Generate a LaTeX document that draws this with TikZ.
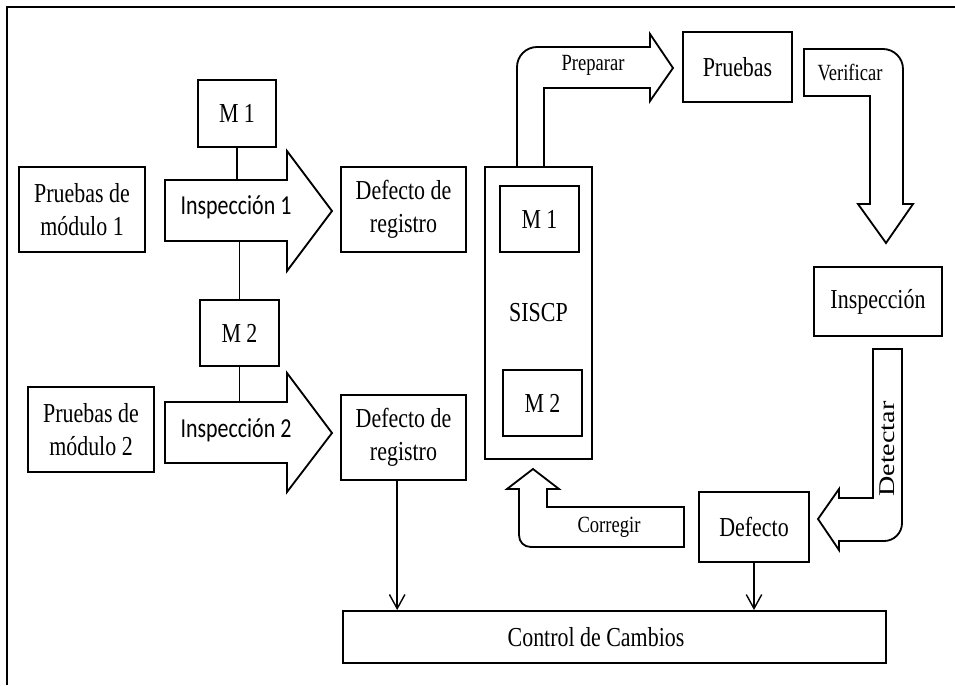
\documentclass[tikz,border=0pt]{standalone}
\usepackage{fontspec}
\newfontfamily\boxf[FakeStretch=0.8]{Liberation Serif}
\newfontfamily\sansf[FakeStretch=0.8]{Carlito}
\newfontfamily\plainserif{Liberation Serif}
\usetikzlibrary{arrows.meta}
\begin{document}
\begin{tikzpicture}[x=0.025cm,y=-0.025cm,
  box/.style={draw, line width=1.35pt, inner sep=0pt, align=center, font=\boxf\fontsize{19.5}{23.5}\selectfont},
  blk/.style={draw, line width=1.3pt, fill=white, line join=miter},
  lbl/.style={inner sep=0pt, font=\boxf\fontsize{16.5}{20}\selectfont},
  ilbl/.style={inner sep=0pt, font=\sansf\fontsize{19.5}{23.5}\selectfont},
  conn/.style={line width=1pt},
  arr/.style={line width=1pt, -{Straight Barb[length=10pt,width=11pt]}}]
\useasboundingbox (0,0) rectangle (955,685);
\fill[white] (0,0) rectangle (955,685);
% frame
\draw[line width=1.5pt] (7,685) -- (7,7) -- (955,7);

% left part boxes
\node[box, minimum width=1.95cm, minimum height=1.675cm] (m1a) at (237,113.5) {M 1};
\node[box, minimum width=3.15cm, minimum height=2.125cm] (pm1) at (82,209.5) {Pruebas de\\módulo 1};
\node[box, minimum width=3.125cm, minimum height=2.125cm] (dr1) at (403.5,209.5) {Defecto de\\registro};
\node[box, minimum width=1.975cm, minimum height=1.65cm] (m2a) at (239.5,333) {M 2};
\node[box, minimum width=3.15cm, minimum height=2.125cm] (pm2) at (91,429.5) {Pruebas de\\módulo 2};
\node[box, minimum width=3.125cm, minimum height=2.125cm] (dr2) at (403.5,437.5) {Defecto de\\registro};

% inspection block arrows
\draw[blk] (165,180) -- (287,180) -- (287,151) -- (332,211) -- (287,271) -- (287,241) -- (165,241) -- cycle;
\draw[blk] (165,402) -- (287,402) -- (287,373) -- (332,433) -- (287,492) -- (287,463) -- (165,463) -- cycle;
\node[ilbl] (ins1) at (236,207) {Inspección 1};
\node[ilbl] (ins2) at (236,430) {Inspección 2};
\coordinate (a1t) at (237,180);
\coordinate (a1b) at (239.5,241);
\coordinate (a2t) at (239.5,402);
\draw[conn] (m1a.south) -- (a1t);
\draw[conn] (a1b) -- (m2a.north);
\draw[conn] (m2a.south) -- (a2t);

% SISCP
\node[box, minimum width=2.675cm, minimum height=7.3cm] (siscp) at (538.5,313) {SISCP};
\node[box, minimum width=1.975cm, minimum height=1.65cm] (m1b) at (539.5,219) {M 1};
\node[box, minimum width=1.975cm, minimum height=1.65cm] (m2b) at (542.5,403) {M 2};

% right part boxes
\node[box, minimum width=2.725cm, minimum height=1.75cm] (prb) at (737.5,67) {Pruebas};
\node[box, minimum width=3.2cm, minimum height=1.725cm] (insp) at (878,301.5) {Inspección};
\node[box, minimum width=2.75cm, minimum height=1.75cm] (def) at (754,527) {Defecto};
\node[box, minimum width=13.575cm, minimum height=1.3cm] (ctrl) at (614.5,637) {};
\node[box, draw=none] (ctrltxt) at (596,637) {Control de Cambios};

% Preparar arrow
\draw[blk] (517,167) -- (517,67) .. controls (517,56) and (526,47) .. (537,47) -- (650,47) -- (650,34) -- (673,68) -- (650,101) -- (650,88) -- (544,88) -- (544,167) -- cycle;
\node[lbl] (prep) at (593,65) {Preparar};

% Verificar arrow
\draw[blk] (804,49) -- (883,49) .. controls (894,49) and (903,58) .. (903,69) -- (903,204) -- (913,204) -- (886,243) -- (858,204) -- (870,204) -- (870,96) -- (804,96) -- cycle;
\node[lbl] (verif) at (850,73) {Verificar};

% Detectar arrow
\draw[blk] (873,349) -- (902,349) -- (902,523) .. controls (902,533) and (894,541) .. (884,541) -- (839,541) -- (839,550) -- (818,519) -- (839,489) -- (839,498) -- (873,498) -- cycle;
\node[inner sep=0pt, rotate=90, font=\plainserif\fontsize{20}{24}\selectfont] (detec) at (887,449) {\scalebox{1}[0.8]{Detectar}};

% Corregir arrow
\draw[blk] (684,507) -- (547,507) -- (547,489) -- (559,489) -- (533,469) -- (507,489) -- (519,489) -- (519,535) .. controls (519,542) and (524,547) .. (531,547) -- (684,547) -- cycle;
\node[lbl] (corr) at (609,527) {Corregir};

% connectors to Control de Cambios
\draw[arr] ([xshift=-4.5pt]dr2.south) -- ([xshift=-4.5pt]dr2.south |- ctrl.north);
\draw[arr] (def.south) -- (def.south |- ctrl.north);
\end{tikzpicture}
\end{document}
